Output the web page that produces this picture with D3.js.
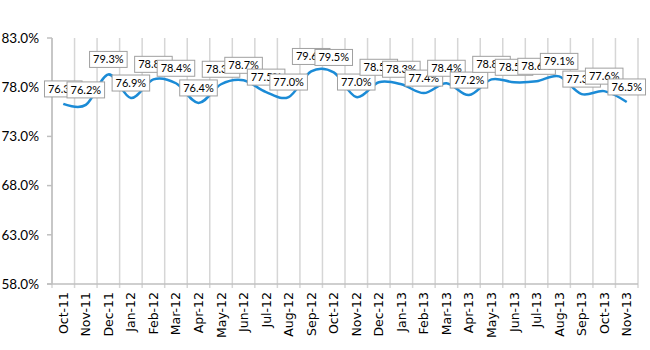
<!DOCTYPE html>
<html>
<head>
<meta charset="utf-8">
<script src="https://cdn.jsdelivr.net/npm/d3@7"></script>
<style>
  body { margin: 0; background: #fff; }
  svg { display: block; font-family: Lato, "Open Sans", sans-serif; }
</style>
</head>
<body>
<div id="chart"></div>
<script>
const months = ["Oct-11","Nov-11","Dec-11","Jan-12","Feb-12","Mar-12","Apr-12","May-12","Jun-12",
  "Jul-12","Aug-12","Sep-12","Oct-12","Nov-12","Dec-12","Jan-13","Feb-13","Mar-13","Apr-13",
  "May-13","Jun-13","Jul-13","Aug-13","Sep-13","Oct-13","Nov-13"]
const rates = [76.3,76.2,79.3,76.9,78.8,78.4,76.4,78.3,78.7,77.5,77.0,79.6,79.5,77.0,78.5,78.3,
  77.4,78.4,77.2,78.8,78.5,78.6,79.1,77.3,77.6,76.5]
const yTicks = [58,63,68,73,78,83]

const width = 650, height = 350
const margin = {top: 38, right: 12, bottom: 66, left: 52}
const innerW = width - margin.left - margin.right
const innerH = height - margin.top - margin.bottom

const svg = d3.select("#chart").append("svg")
  .attr("width", width).attr("height", height)

const g = svg.append("g").attr("transform", `translate(${margin.left},${margin.top})`)

const x = d3.scaleBand().domain(months).range([0, innerW])
const y = d3.scaleLinear().domain([58, 83]).range([innerH, 0])

//vertical gridlines sit on the category boundaries
const bounds = months.map(m => x(m)).concat([innerW])
g.selectAll(".vgrid").data(bounds).join("line")
  .attr("class", "vgrid")
  .attr("x1", d => d).attr("x2", d => d)
  .attr("y1", 0).attr("y2", innerH + 4)
  .attr("stroke", "#d6d6d6").attr("stroke-width", 1.5)

//y axis
g.append("line").attr("x1", 0).attr("x2", 0).attr("y1", 0).attr("y2", innerH)
  .attr("stroke", "#bfbfbf").attr("stroke-width", 1.5)
g.selectAll(".ytick").data(yTicks).join("line")
  .attr("x1", -5).attr("x2", 0)
  .attr("y1", d => y(d)).attr("y2", d => y(d))
  .attr("stroke", "#bfbfbf").attr("stroke-width", 1.5)
g.selectAll(".ylab").data(yTicks).join("text")
  .attr("x", -13).attr("y", d => y(d)).attr("dy", "0.35em")
  .attr("text-anchor", "end").attr("font-size", 13.5).attr("fill", "#000")
  .text(d => d.toFixed(1) + "%")

//x axis
g.append("line").attr("x1", -5).attr("x2", innerW).attr("y1", innerH).attr("y2", innerH)
  .attr("stroke", "#bfbfbf").attr("stroke-width", 1.5)
g.selectAll(".xlab").data(months).join("text")
  .attr("transform", d => `translate(${x(d) + x.bandwidth()/2 + 4.5},${innerH + 8}) rotate(-90)`)
  .attr("text-anchor", "end").attr("font-size", 12.5)
  .attr("font-family", "'DejaVu Sans', Verdana, sans-serif").attr("fill", "#000")
  .text(d => d)

//smoothed series line
const line = d3.line()
  .x((d, i) => x(months[i]) + x.bandwidth()/2)
  .y(d => y(d))
  .curve(d3.curveCardinal.tension(0))
g.append("path").datum(rates)
  .attr("d", line)
  .attr("fill", "none").attr("stroke", "#1b8bd6").attr("stroke-width", 2.5)

//boxed value labels, later ones drawn over earlier ones
rates.forEach((v, i) => {
  const cx = x(months[i]) + x.bandwidth()/2
  const cy = y(v) - 15
  const lab = g.append("g").attr("transform", `translate(${cx},${cy})`)
  const rect = lab.append("rect")
  const t = lab.append("text")
    .attr("text-anchor", "middle").attr("dy", "0.35em")
    .attr("font-size", 11).attr("fill", "#000")
    .text(v.toFixed(1) + "%")
  const w = t.node().getComputedTextLength() + 7
  rect.attr("x", -w/2).attr("y", -8).attr("width", w).attr("height", 16)
    .attr("fill", "#fff").attr("stroke", "#a0a0a0").attr("stroke-width", 1)
})
</script>
</body>
</html>
